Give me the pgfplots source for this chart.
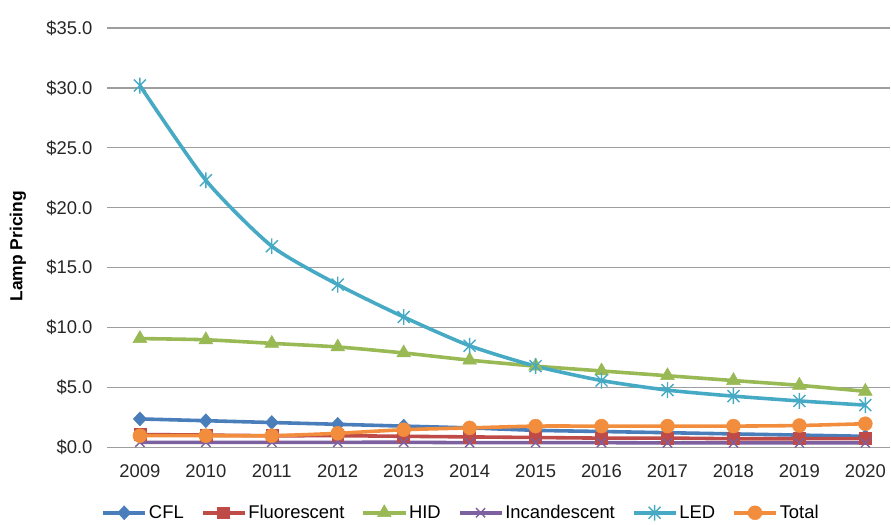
\documentclass[border=0pt]{standalone}
\usepackage{pgfplots}
\pgfplotsset{compat=1.18}
\usepackage{fontspec}
\setmainfont{Liberation Sans}
\definecolor{cCFL}{HTML}{4A7EBB}
\definecolor{cFlu}{HTML}{BE4B48}
\definecolor{cHID}{HTML}{98B954}
\definecolor{cInc}{HTML}{7D60A0}
\definecolor{cLED}{HTML}{46AAC5}
\definecolor{cTot}{HTML}{F28D3E}
\pgfdeclareplotmark{xstar}{%
  \pgfpathmoveto{\pgfqpoint{-.75\pgfplotmarksize}{-.75\pgfplotmarksize}}%
  \pgfpathlineto{\pgfqpoint{.75\pgfplotmarksize}{.75\pgfplotmarksize}}%
  \pgfpathmoveto{\pgfqpoint{-.75\pgfplotmarksize}{.75\pgfplotmarksize}}%
  \pgfpathlineto{\pgfqpoint{.75\pgfplotmarksize}{-.75\pgfplotmarksize}}%
  \pgfpathmoveto{\pgfqpoint{0pt}{-\pgfplotmarksize}}%
  \pgfpathlineto{\pgfqpoint{0pt}{\pgfplotmarksize}}%
  \pgfusepathqstroke}
\begin{document}
\begin{tikzpicture}
\begin{axis}[
  at={(0,0)}, anchor=south west,
  scale only axis, width=784bp, height=420bp,
  xmin=2008.5, xmax=2020.38, ymin=0, ymax=35,
  xtick={2009,...,2020},
  x tick label style={/pgf/number format/1000 sep={}},
  ytick={0,5,...,35},
  yticklabel={\$\pgfmathprintnumber[fixed,fixed zerofill,precision=1]{\tick}},
  /pgf/number format/assume math mode=true,
  tick label style={font=\fontsize{18.5}{20}\selectfont, color=black!85},
  ymajorgrids, major grid style={color=black!38, line width=1.2pt},
  axis line style={draw=none}, major tick length=0pt,
  xticklabel shift=13bp, yticklabel shift=11bp,
  ylabel={Lamp Pricing}, ylabel style={font=\fontsize{17.5}{19}\selectfont\bfseries, at={(rel axis cs:0,0.48)}, yshift=89bp, anchor=center},
  clip=false,
  every axis plot/.append style={line width=3.6pt, smooth, tension=0.4},
  legend columns=6,
  legend style={draw=none, fill=none, font=\fontsize{18.5}{20}\selectfont, at={(rel axis cs:0.452,-0.155)}, anchor=center, inner sep=0pt,
    /tikz/every even column/.append style={column sep=15bp}, /tikz/every odd column/.append style={column sep=0bp}},
  legend image code/.code={\draw[mark repeat=2,mark phase=2] plot coordinates {(0bp,0bp) (21bp,0bp) (42bp,0bp)};},
]
\addplot[cCFL, mark=diamond*, mark size=7pt, mark options={solid, line width=0.5pt, xscale=1.25}] coordinates {
(2009,2.4)(2010,2.25)(2011,2.1)(2012,1.95)(2013,1.8)(2014,1.65)(2015,1.45)(2016,1.35)(2017,1.25)(2018,1.15)(2019,1.05)(2020,0.95)};
\addlegendentry{CFL}
\addplot[cFlu, mark=square*, mark size=6pt, mark options={solid, line width=0.5pt}] coordinates {
(2009,1.1)(2010,1.05)(2011,1.0)(2012,1.0)(2013,0.95)(2014,0.9)(2015,0.85)(2016,0.8)(2017,0.8)(2018,0.75)(2019,0.75)(2020,0.75)};
\addlegendentry{Fluorescent}
\addplot[cHID, mark=triangle*, mark size=8pt, mark options={solid, line width=0.5pt}] coordinates {
(2009,9.1)(2010,9.0)(2011,8.7)(2012,8.4)(2013,7.9)(2014,7.3)(2015,6.8)(2016,6.4)(2017,6.0)(2018,5.6)(2019,5.2)(2020,4.7)};
\addlegendentry{HID}
\addplot[cInc, mark=x, mark size=6.5pt, mark options={solid, line width=1.4pt}] coordinates {
(2009,0.45)(2010,0.45)(2011,0.45)(2012,0.45)(2013,0.45)(2014,0.42)(2015,0.42)(2016,0.42)(2017,0.4)(2018,0.4)(2019,0.4)(2020,0.4)};
\addlegendentry{Incandescent}
\addplot[cLED, mark=xstar, mark size=8pt, mark options={solid, line width=1.4pt}] coordinates {
(2009,30.2)(2010,22.3)(2011,16.8)(2012,13.6)(2013,10.9)(2014,8.5)(2015,6.8)(2016,5.6)(2017,4.8)(2018,4.3)(2019,3.9)(2020,3.55)};
\addlegendentry{LED}
\addplot[cTot, mark=*, mark size=7pt, mark options={solid, line width=0.5pt}] coordinates {
(2009,1.0)(2010,1.0)(2011,1.0)(2012,1.2)(2013,1.5)(2014,1.65)(2015,1.8)(2016,1.8)(2017,1.8)(2018,1.8)(2019,1.85)(2020,2.0)};
\addlegendentry{Total}
\end{axis}
\path[use as bounding box] (-107bp,-77bp) rectangle (784bp,448bp);
\end{tikzpicture}
\end{document}
